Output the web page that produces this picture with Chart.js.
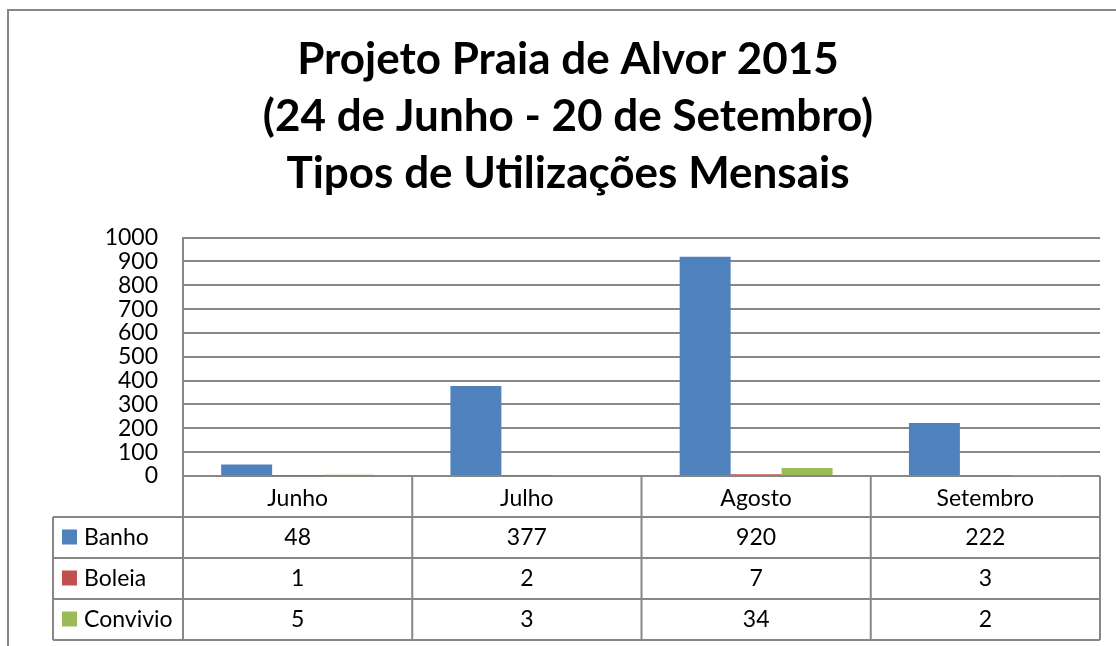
<!DOCTYPE html>
<html>
<head>
<meta charset="utf-8">
<script src="https://cdn.jsdelivr.net/npm/chart.js@4"></script>
<style>
  html, body { margin: 0; padding: 0; background: #fff; overflow: hidden; }
  #frame { position: absolute; left: 7px; top: 9px; width: 1200px; height: 700px; border: 2px solid #878787; }
  #chart { position: absolute; left: 0; top: 0; }
</style>
</head>
<body>
<div id="frame"></div>
<canvas id="chart" width="1116" height="646"></canvas>
<script>
const months = ['Junho', 'Julho', 'Agosto', 'Setembro'];
const banho = [48, 377, 920, 222];
const boleia = [1, 2, 7, 3];
const convivio = [5, 3, 34, 2];
const yTicks = [0, 100, 200, 300, 400, 500, 600, 700, 800, 900, 1000];
const titleLines = ['Projeto Praia de Alvor 2015', '(24 de Junho - 20 de Setembro)', 'Tipos de Utilizações Mensais'];

const gridGray = '#878787';
const fontFamily = 'Lato, "Open Sans", sans-serif';
const textSize = 23;

// data table under the plot, like the Excel one
const dataTable = {
  id: 'dataTable',
  afterDraw(chart) {
    const ctx = chart.ctx;
    const area = chart.chartArea;
    const xs = chart.scales.x;
    const rowH = 41;
    const top = area.bottom + 41;
    const catW = (area.right - area.left) / months.length;
    const legendLeft = 53;

    ctx.save();
    ctx.strokeStyle = gridGray;
    ctx.lineWidth = 2;
    ctx.beginPath();
    for (let r = 0; r <= chart.data.datasets.length; r++) {
      const y = top + r * rowH;
      ctx.moveTo(legendLeft, y);
      ctx.lineTo(area.right, y);
    }
    const bottom = top + chart.data.datasets.length * rowH;
    ctx.moveTo(legendLeft, top);
    ctx.lineTo(legendLeft, bottom);
    for (let i = 0; i <= months.length; i++) {
      const x = area.left + i * catW;
      ctx.moveTo(x, area.bottom);
      ctx.lineTo(x, bottom);
    }
    ctx.stroke();

    ctx.font = textSize + 'px ' + fontFamily;
    ctx.textBaseline = 'middle';
    chart.data.datasets.forEach((ds, r) => {
      const cy = top + r * rowH + rowH / 2;
      ctx.fillStyle = ds.backgroundColor;
      ctx.fillRect(62, cy - 8, 15, 15);
      ctx.fillStyle = '#000';
      ctx.textAlign = 'left';
      ctx.fillText(ds.label, 84, cy);
      ctx.textAlign = 'center';
      ds.data.forEach((v, i) => {
        ctx.fillText(String(v), xs.getPixelForValue(i), cy);
      });
    });
    ctx.restore();
  }
};

new Chart(document.getElementById('chart'), {
  type: 'bar',
  data: {
    labels: months,
    datasets: [
      { label: 'Banho', data: banho, backgroundColor: '#4F81BD' },
      { label: 'Boleia', data: boleia, backgroundColor: '#C0504D' },
      { label: 'Convivio', data: convivio, backgroundColor: '#9BBB59' }
    ]
  },
  options: {
    responsive: false,
    devicePixelRatio: 1,
    animation: false,
    // left padding shifts the title centre to the right, y axis width makes up for it
    layout: { padding: { top: 0, left: 36, right: 16, bottom: 0 } },
    datasets: {
      bar: { categoryPercentage: 0.667, barPercentage: 1.0 }
    },
    plugins: {
      legend: { display: false },
      tooltip: { enabled: false },
      title: {
        display: true,
        text: titleLines,
        color: '#000',
        font: { family: fontFamily, size: 44, weight: 'bold', lineHeight: 1.3 },
        padding: { top: 31, bottom: 35 }
      }
    },
    scales: {
      x: {
        grid: { display: false },
        border: { display: false },
        ticks: { color: '#000', font: { family: fontFamily, size: textSize }, padding: 1 },
        afterFit(scale) { scale.height = 170; }
      },
      y: {
        min: 0,
        max: 1000,
        afterBuildTicks(scale) { scale.ticks = yTicks.map(v => ({ value: v })); },
        grid: { color: gridGray, lineWidth: 2, drawTicks: false },
        border: { display: true, color: gridGray, width: 2 },
        ticks: {
          color: '#000',
          font: { family: fontFamily, size: textSize },
          padding: 25,
          autoSkip: false,
          callback: v => String(v)
        },
        afterFit(scale) { scale.width = 147; }
      }
    }
  },
  plugins: [dataTable]
});
</script>
</body>
</html>
